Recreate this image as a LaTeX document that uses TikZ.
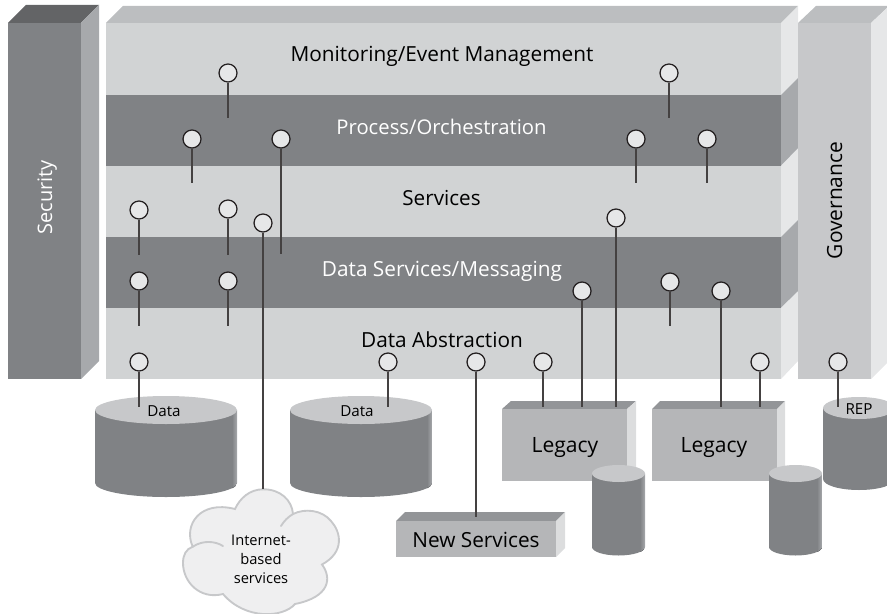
\documentclass[tikz,border=0pt]{standalone}
\usepackage{fontspec}
\setmainfont{Open Sans}
\definecolor{bandlight}{HTML}{D1D3D4}
\definecolor{banddark}{HTML}{808285}
\definecolor{topgrey}{HTML}{BCBEC0}
\definecolor{sidelight}{HTML}{E6E7E8}
\definecolor{sidedark}{HTML}{A7A9AC}
\definecolor{sectop}{HTML}{636466}
\definecolor{govfront}{HTML}{C7C8CA}
\definecolor{boxfront}{HTML}{B5B6B8}
\definecolor{boxtop}{HTML}{939598}
\definecolor{boxside}{HTML}{DCDDDE}
\definecolor{cloudfill}{HTML}{EFEFF0}
\definecolor{ink}{HTML}{231F20}
\tikzset{
  x=0.75pt,y=-0.75pt,
  pinhead/.style={circle,draw=ink,line width=0.95pt,fill=sidelight,minimum size=13.5pt,inner sep=0pt},
  pinline/.style={draw=ink!85,line width=0.95pt},
  bigtext/.style={font=\fontsize{15.5}{18}\selectfont,text=black,inner sep=0pt,anchor=base},
  whitetext/.style={bigtext,text=white},
  smalltext/.style={font=\fontsize{11.4}{13}\selectfont,text=black,inner sep=0pt,anchor=base},
  cloudtext/.style={font=\fontsize{11}{14.25}\selectfont,text=black,inner sep=0pt,align=center},
}
% \drum{left}{right}{sideY}{ry}{bottomSideY}{stripeWidth}
\newcommand{\drum}[6]{%
  \begin{scope}
    \clip (#1,#3) -- (#1,#5) arc[start angle=180,end angle=360,x radius={(#2-#1)*0.375pt},y radius={#4*0.75pt}] -- (#2,#3) -- cycle;
    \fill[banddark] (#1,#3-1) rectangle (#2,#5+#4+1);
    \fill[left color=banddark,right color=sidedark] (#2-#6,#3-1) rectangle (#2,#5+#4+1);
  \end{scope}
  \fill[govfront] (#1,#3) arc[start angle=180,end angle=0,x radius={(#2-#1)*0.375pt},y radius={#4*0.75pt}] arc[start angle=0,end angle=-180,x radius={(#2-#1)*0.375pt},y radius={#4*0.75pt}] -- cycle;
}
% \boxthree{x0}{x1}{y0}{y1}{dx}{dy}
\newcommand{\boxthree}[6]{%
  \fill[boxtop] (#1,#3) -- (#1+#5,#3-#6) -- (#2+#5,#3-#6) -- (#2,#3) -- cycle;
  \fill[boxside] (#2,#3) -- (#2+#5,#3-#6) -- (#2+#5,#4-#6) -- (#2,#4) -- cycle;
  \fill[boxfront] (#1,#3) rectangle (#2,#4);
}
\newcommand{\pinat}[4]{%
  \node[pinhead] (#1) at (#2,#3) {};
  \coordinate (#1-end) at (#2,#4);
  \draw[pinline] (#1.south) -- (#1-end);
}
\begin{document}
\begin{tikzpicture}
\useasboundingbox (0,0) rectangle (887,613);
\clip (0,0) rectangle (887,613);

% Security
\fill[sectop] (8,23) -- (26,5) -- (99,5) -- (81,23) -- cycle;
\fill[sidedark] (81,23) -- (99,5) -- (99,361) -- (81,379) -- cycle;
\fill[banddark] (8,23) rectangle (81,379);

% Main stack
\fill[topgrey] (106,23) -- (123,6) -- (798,6) -- (781,23) -- cycle;
\fill[sidelight] (781,23) -- (798,6) -- (798,361) -- (781,379) -- cycle;
\fill[sidedark] (781,95) -- (798,78) -- (798,148) -- (781,165.5) -- cycle;
\fill[sidedark] (781,237) -- (798,220) -- (798,291) -- (781,307.5) -- cycle;
\fill[bandlight] (106,23) rectangle (781,379);
\fill[banddark] (106,95) rectangle (781,165.5);
\fill[banddark] (106,237) rectangle (781,307.5);

% Governance
\fill[topgrey] (798,23) -- (816,6) -- (889,6) -- (871,23) -- cycle;
\fill[sidelight] (871,23) -- (889,6) -- (889,361) -- (871,379) -- cycle;
\fill[govfront] (798,23) rectangle (871,379);

% Layer labels
\node[bigtext,font=\fontsize{15.6}{18}\selectfont] (mon) at (442,62) {Monitoring/Event Management};
\node[whitetext,font=\fontsize{15.2}{18}\selectfont] (proc) at (441.5,134) {Process/Orchestration};
\node[bigtext] (svc) at (441.5,205) {Services};
\node[whitetext,font=\fontsize{15.6}{18}\selectfont] (dsm) at (442,276) {Data Services/Messaging};
\node[bigtext,font=\fontsize{15.6}{18}\selectfont] (dabs) at (442,347) {Data Abstraction};
\node[whitetext,rotate=90,font=\fontsize{15}{18}\selectfont] (sec) at (52,197.5) {Security};
\node[bigtext,rotate=90,font=\fontsize{15.7}{18}\selectfont] (gov) at (842,200.5) {Governance};

% Data stores
\drum{95}{237}{410}{14}{483}{5}
\drum{290}{432}{410}{14}{483}{5}
\drum{823}{895}{408}{11}{479}{0.1}
\node[smalltext] (d1) at (164,416) {Data};
\node[smalltext] (d2) at (357,416) {Data};
\node[smalltext] (rep) at (859,414) {REP};

% Legacy boxes
\boxthree{502}{627}{409}{481}{9}{8}
\boxthree{652}{777}{409}{481}{8}{8}
\node[bigtext,font=\fontsize{15.8}{18}\selectfont] (leg1) at (565,452) {Legacy};
\node[bigtext,font=\fontsize{15.8}{18}\selectfont] (leg2) at (714,452) {Legacy};
\drum{592}{645}{473.5}{8.5}{547}{5}
\drum{769}{822}{473.5}{8.5}{547}{5}

% New services
\boxthree{396}{556}{521}{557}{9}{9}
\node[bigtext,font=\fontsize{15.6}{18}\selectfont] (ns) at (476,547) {New Services};

% Cloud
\filldraw[draw=govfront,line width=1.4pt,fill=cloudfill]
  (263,489.3)
  .. controls (280,489) and (292,500) .. (293,514)
  .. controls (305,508) and (322,510) .. (331,521)
  .. controls (341,532) and (345,552) .. (322,564.5)
  .. controls (332,578) and (330,597) .. (295,604)
  .. controls (283,618) and (245,620) .. (223,594)
  .. controls (200,600) and (183,582) .. (183,563)
  .. controls (183,555) and (186,549) .. (192.7,546.7)
  .. controls (183,525) and (200,500) .. (235,509)
  .. controls (240,498) and (250,489.3) .. (263,489.3) -- cycle;
\draw[govfront,line width=1.4pt,line cap=round] (192.7,546.7) .. controls (203,540) and (215,541) .. (223,546);
\draw[govfront,line width=1.4pt,line cap=round] (293,514) .. controls (288,517) and (284,521) .. (281,526);
\coordinate (cloudtop) at (263,488.5);
\node[cloudtext] (cl) at (261,559) {Internet-\\based\\services};

% Pins
\pinat{p1}{228}{73}{118}
\pinat{p2}{669}{73}{118}
\pinat{p3}{192}{139}{183}
\pinat{p4}{281}{139}{254}
\pinat{p5}{636}{139}{183}
\pinat{p6}{707}{139}{183}
\pinat{p7}{139}{210}{255}
\pinat{p8}{228}{209}{255}
\pinat{p9}{263}{223}{488.5}
\pinat{p10}{616}{218}{407}
\pinat{p11}{139}{281}{326}
\pinat{p12}{228}{281}{326}
\pinat{p13}{582}{291}{407}
\pinat{p14}{670}{282}{326}
\pinat{p15}{721}{291}{407}
\pinat{p16}{139}{362}{407}
\pinat{p17}{388}{362}{407}
\pinat{p18}{476}{362}{517}
\pinat{p19}{543}{362}{407}
\pinat{p20}{760}{362}{407}
\pinat{p21}{838}{362}{407}
\end{tikzpicture}
\end{document}
